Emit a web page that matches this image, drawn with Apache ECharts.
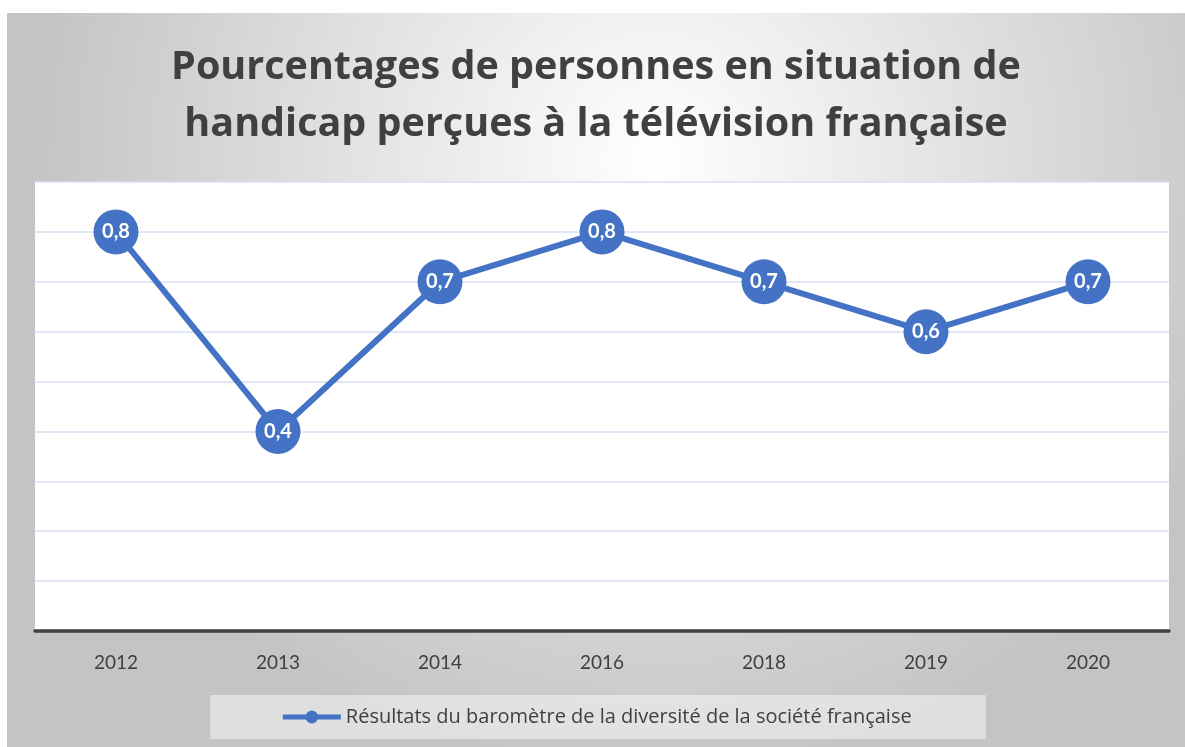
<!DOCTYPE html>
<html lang="fr">
<head>
    <meta charset="UTF-8">
    <title>Handicap à la télévision</title>
    <script src="https://cdn.jsdelivr.net/npm/echarts@6/dist/echarts.min.js"></script>
    <style>
        body { margin: 0; background: #fff; }
        #chart { position: absolute; left: 7px; top: 13px; width: 1178px; height: 734px; }
    </style>
</head>
<body>
    <div id="chart"></div>
    <script>
        const years = ['2012', '2013', '2014', '2016', '2018', '2019', '2020'];
        const values = [0.8, 0.4, 0.7, 0.8, 0.7, 0.6, 0.7];
        const seriesName = 'Résultats du baromètre de la diversité de la société française';

        const myChart = echarts.init(document.getElementById('chart'));
        const font = 'Lato, "Open Sans", sans-serif';
        const wide = '"Open Sans", Lato, sans-serif';

        const option = {
            backgroundColor: {
                type: 'radial', x: 0.55, y: 0.2, r: 0.85,
                colorStops: [
                    { offset: 0, color: '#ffffff' },
                    { offset: 1, color: '#c4c4c4' }
                ]
            },
            title: {
                text: 'Pourcentages de personnes en situation de\nhandicap perçues à la télévision française',
                left: 'center',
                top: 21,
                textStyle: {
                    fontFamily: wide,
                    fontSize: 39.5,
                    fontWeight: 'bold',
                    color: '#404040',
                    lineHeight: 57
                }
            },
            grid: {
                left: 28, right: 16, top: 169, bottom: 116,
                show: true,
                backgroundColor: '#ffffff',
                borderWidth: 0
            },
            legend: {
                bottom: 8,
                left: 'center',
                padding: [12, 74, 12, 70],
                backgroundColor: 'rgba(245,245,245,0.55)',
                itemWidth: 58,
                itemHeight: 16,
                itemGap: 4,
                lineStyle: { width: 5 },
                textStyle: { fontFamily: wide, fontSize: 20, color: '#404040' },
                data: [seriesName]
            },
            xAxis: {
                type: 'category',
                data: years,
                axisLine: { lineStyle: { color: '#404040', width: 3.5 } },
                axisTick: { show: false },
                axisLabel: { fontFamily: font, fontSize: 19, color: '#404040', margin: 22 }
            },
            yAxis: {
                type: 'value',
                min: 0, max: 0.9, interval: 0.1,
                axisLabel: { show: false },
                axisLine: { show: false },
                axisTick: { show: false },
                splitLine: { lineStyle: { color: '#d6e0f2', width: 1.5 } }
            },
            series: [{
                name: seriesName,
                type: 'line',
                data: values,
                symbol: 'circle',
                symbolSize: 45,
                lineStyle: { color: '#4472c4', width: 6 },
                itemStyle: { color: '#4472c4' },
                label: {
                    show: true,
                    position: 'inside',
                    fontFamily: font,
                    fontSize: 20,
                    fontWeight: 'bold',
                    color: '#ffffff',
                    formatter: p => String(p.value).replace('.', ',')
                }
            }]
        };
        myChart.setOption(option);
    </script>
</body>
</html>
